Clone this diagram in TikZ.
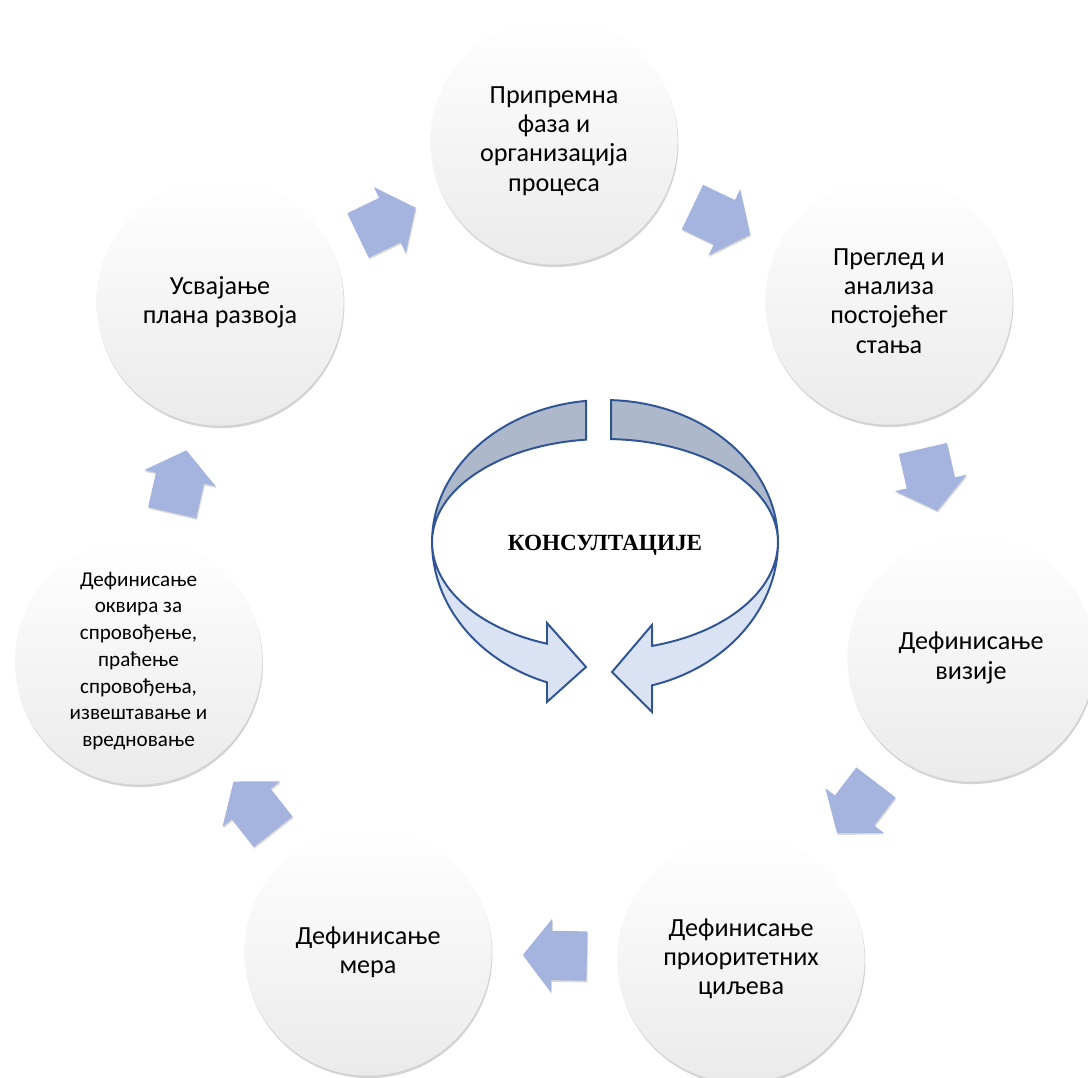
\documentclass[tikz,border=0pt]{standalone}
\usepackage{fontspec}
\setmainfont{Carlito}
\newfontfamily\titlefont{Liberation Serif}
\usetikzlibrary{shapes.arrows, shadows}
\definecolor{ringline}{RGB}{47,85,151}
\definecolor{ringgray}{RGB}{173,185,202}
\definecolor{ringblue}{RGB}{218,227,243}
\definecolor{stepblue}{RGB}{164,180,222}

\begin{document}
\begin{tikzpicture}[
  phase/.style={circle, minimum size=6.18cm, inner sep=0pt, align=center,
                top color=white, bottom color=gray!16,
                font=\fontsize{18.6}{20.8}\selectfont,
                drop shadow={shadow xshift=0.6pt, shadow yshift=-1.8pt, opacity=0.35}},
  flow/.style={single arrow, sloped, allow upside down, pos=0.42,
               inner xsep=0pt, inner ysep=0.61cm,
               minimum height=1.6cm,
               single arrow head extend=0.3cm, single arrow tip angle=104,
               fill=stepblue,
               drop shadow={shadow xshift=0.6pt, shadow yshift=-1.2pt, opacity=0.3}},
]
\useasboundingbox (0,0) rectangle (27.2,26.925);

% phases of the cycle
\node[phase] (prep)     at (13.85,23.4)   {Припремна\\фаза и\\организација\\процеса};
\node[phase] (review)   at (22.225,19.4)  {Преглед и\\анализа\\постојећег\\стања};
\node[phase] (vision)   at (24.275,10.475){Дефинисање\\визије};
\node[phase] (goals)    at (18.525,2.95)  {Дефинисање\\приоритетних\\циљева};
\node[phase] (measures) at (9.2,3.125)    {Дефинисање\\мера};
\node[phase, font=\fontsize{15}{19}\selectfont] (frame) at (3.4625,10.4)
  {Дефинисање\\оквира за\\спровођење,\\праћење\\спровођења,\\извештавање и\\вредновање};
\node[phase] (adopt)    at (5.5,19.375)   {Усвајање\\плана развоја};

% arrows between phases
\path (adopt)    -- node[flow] (f1) {} (prep);
\path (prep)     -- node[flow] (f2) {} (review);
\path (review)   -- node[flow] (f3) {} (vision);
\path (vision)   -- node[flow] (f4) {} (goals);
\path (goals)    -- node[flow] (f5) {} (measures);
\path (measures) -- node[flow] (f6) {} (frame);
\path (frame)    -- node[flow] (f7) {} (adopt);

% consultations ring
\begin{scope}[shift={(15.125,13.375)}, x=0.025cm, y=0.025cm, line width=1.4pt]
  \fill[ringgray] (96.3:173 and 142) arc[start angle=96.3, end angle=180, x radius=173, y radius=142]
    arc[start angle=180, end angle=96.3, x radius=173, y radius=103] -- cycle;
  \fill[ringblue] (180:173 and 149) arc[start angle=180, end angle=250.4, x radius=173, y radius=149]
    -- (-58,-160) -- (-19,-125) -- (-58,-81) -- (250.4:173 and 108)
    arc[start angle=250.4, end angle=180, x radius=173, y radius=108] -- cycle;
  \draw[ringline, line join=miter] (96.3:173 and 142)
    arc[start angle=96.3, end angle=180, x radius=173, y radius=142]
    arc[start angle=180, end angle=250.4, x radius=173, y radius=149]
    -- (-58,-160) -- (-19,-125) -- (-58,-81) -- (250.4:173 and 108)
    arc[start angle=250.4, end angle=180, x radius=173, y radius=108]
    arc[start angle=180, end angle=96.3, x radius=173, y radius=103] -- cycle;
  \fill[ringgray] (88:173 and 142) arc[start angle=88, end angle=0, x radius=173, y radius=142]
    arc[start angle=0, end angle=88, x radius=173, y radius=103] -- cycle;
  \fill[ringblue] (0:173 and 149) arc[start angle=0, end angle=-74.2, x radius=173, y radius=149]
    -- (47,-170) -- (7,-130) -- (47,-83) -- (-74.2:173 and 108)
    arc[start angle=-74.2, end angle=0, x radius=173, y radius=108] -- cycle;
  \draw[ringline, line join=miter] (88:173 and 142)
    arc[start angle=88, end angle=0, x radius=173, y radius=142]
    arc[start angle=0, end angle=-74.2, x radius=173, y radius=149]
    -- (47,-170) -- (7,-130) -- (47,-83) -- (-74.2:173 and 108)
    arc[start angle=-74.2, end angle=0, x radius=173, y radius=108]
    arc[start angle=0, end angle=88, x radius=173, y radius=103] -- cycle;
  \node[font=\titlefont\bfseries\fontsize{16.5}{20}\selectfont] (cons) at (0,-3) {КОНСУЛТАЦИЈЕ};
\end{scope}
\end{tikzpicture}
\end{document}
